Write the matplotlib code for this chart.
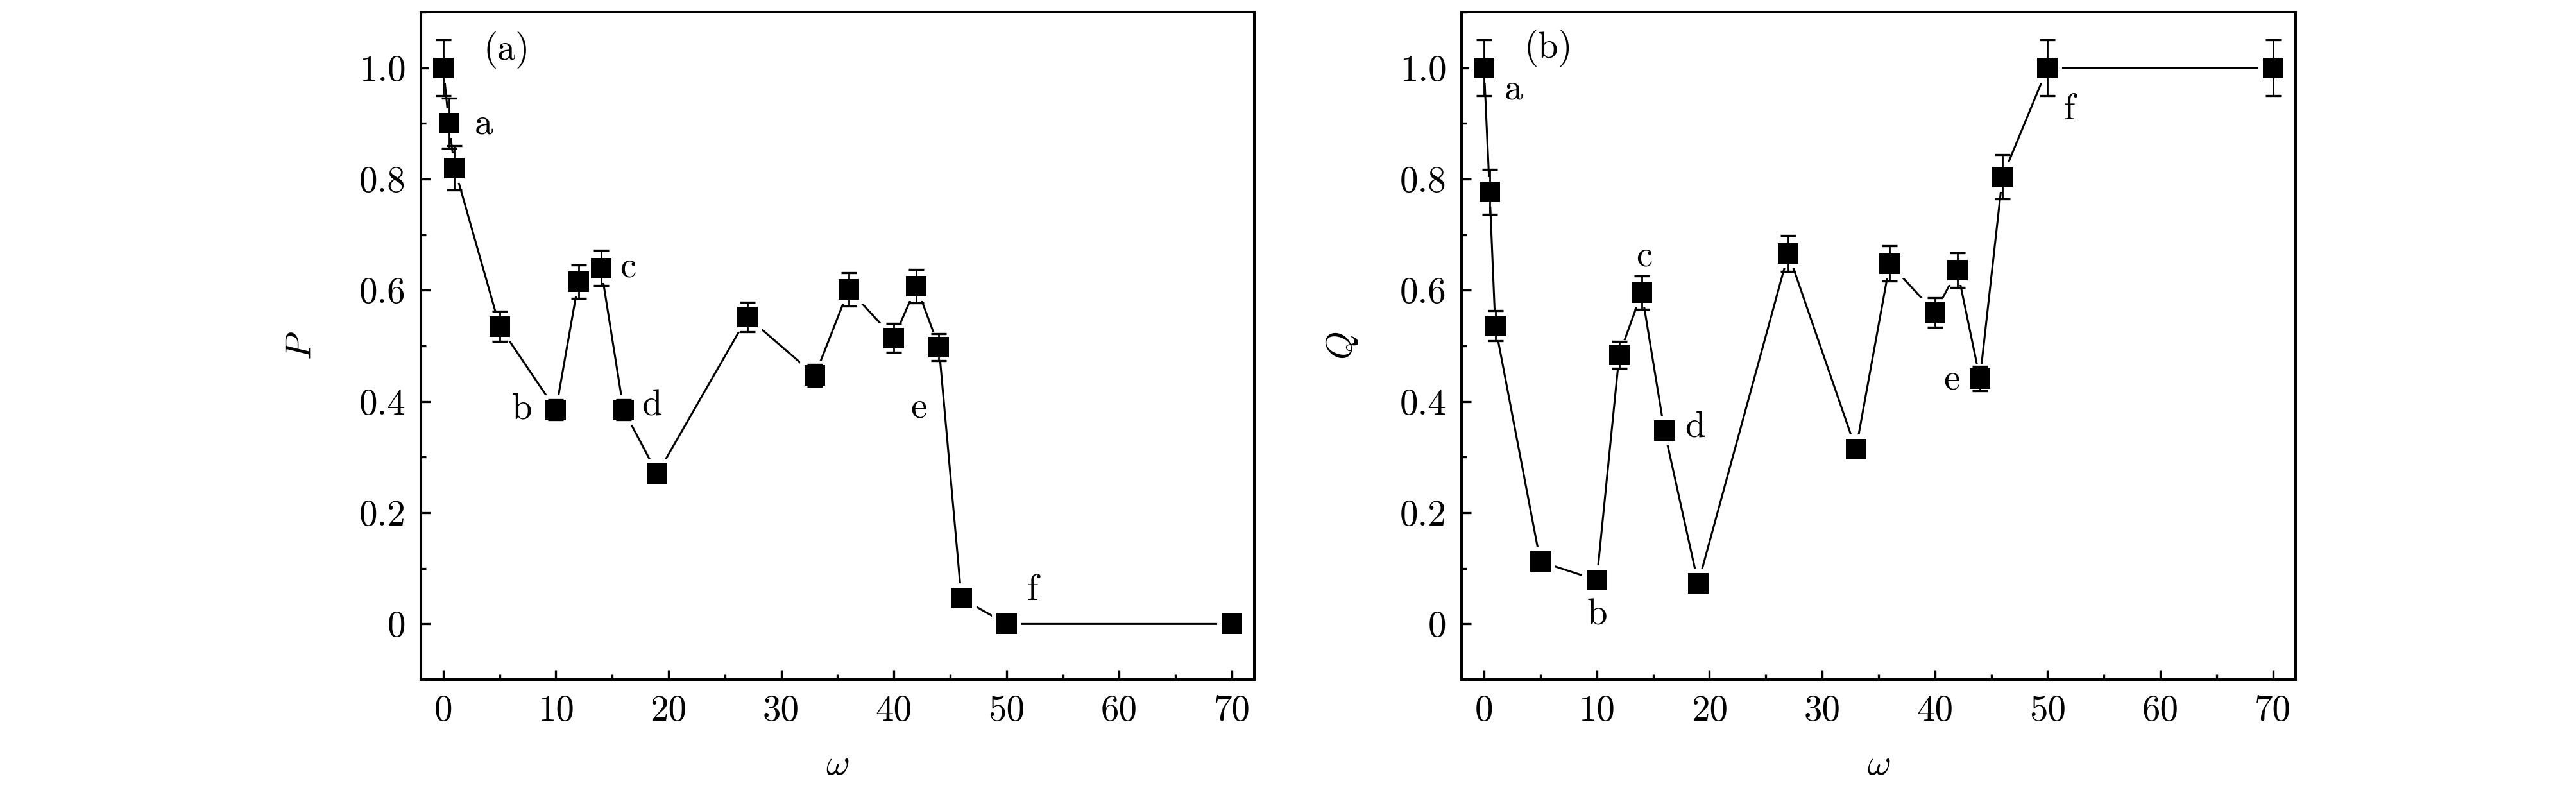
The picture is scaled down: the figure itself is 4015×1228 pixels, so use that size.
import matplotlib
matplotlib.use('Agg')
import matplotlib.pyplot as plt
from matplotlib.ticker import MultipleLocator

# data
omega = [0, 0.5, 1, 5, 10, 12, 14, 16, 19, 27, 33, 36, 40, 42, 44, 46, 50, 70]

P = [1.0, 0.90, 0.82, 0.535, 0.385, 0.615, 0.64, 0.385, 0.27, 0.552,
     0.447, 0.602, 0.514, 0.607, 0.498, 0.046, 0.0, 0.0]
P_err = [0.05, 0.045, 0.04, 0.027, 0.018, 0.03, 0.032, 0.018, 0.01, 0.027,
         0.02, 0.03, 0.026, 0.03, 0.024, 0.0, 0.0, 0.0]

Q = [1.0, 0.777, 0.536, 0.112, 0.079, 0.484, 0.596, 0.348, 0.073, 0.666,
     0.314, 0.648, 0.56, 0.636, 0.441, 0.804, 1.0, 1.0]
Q_err = [0.05, 0.04, 0.027, 0.01, 0.01, 0.024, 0.03, 0.01, 0.01, 0.032,
         0.01, 0.032, 0.027, 0.031, 0.022, 0.04, 0.05, 0.05]

xticks = [0, 10, 20, 30, 40, 50, 60, 70]
yticks = [0, 0.2, 0.4, 0.6, 0.8, 1.0]
yticklabels = ['0', '0.2', '0.4', '0.6', '0.8', '1.0']

# point labels (text, x, y)
notes_a = [('(a)', 5.6, 1.032), ('a', 3.6, 0.898), ('b', 7.0, 0.385),
           ('c', 16.4, 0.641), ('d', 18.5, 0.392), ('e', 42.2, 0.388),
           ('f', 52.3, 0.06)]
notes_b = [('(b)', 5.7, 1.035), ('a', 2.6, 0.961), ('b', 10.05, 0.015),
           ('c', 14.2, 0.661), ('d', 18.7, 0.352), ('e', 41.5, 0.439),
           ('f', 51.9, 0.924)]

plt.rcParams['font.family'] = 'cmr10'
plt.rcParams['mathtext.fontset'] = 'cm'
plt.rcParams['axes.unicode_minus'] = False

FS = 41

fig = plt.figure(figsize=(40.16, 12.28), dpi=100)
ax1 = fig.add_axes([0.1633, 0.1376, 0.3235, 0.8469])
ax2 = fig.add_axes([0.5672, 0.1376, 0.3237, 0.8469])


def draw(ax, y, yerr, ylab, notes):
    ax.plot(omega, y, color='k', lw=2.2, zorder=1)
    # white halo so the line stops short of the markers
    ax.plot(omega, y, ls='none', marker='s', ms=23.5, mfc='k', mec='w', mew=10, zorder=2)
    ax.errorbar(omega, y, yerr=yerr, fmt='none', ecolor='k', elinewidth=2.0,
                capsize=8.6, capthick=2.4, zorder=3)
    ax.plot(omega, y, ls='none', marker='s', ms=23.5, mfc='k', mew=0, zorder=4)

    ax.set_xlim(-2, 72)
    ax.set_ylim(-0.1, 1.1)
    ax.set_xticks(xticks)
    ax.set_yticks(yticks, labels=yticklabels)
    ax.xaxis.set_minor_locator(MultipleLocator(5))
    ax.yaxis.set_minor_locator(MultipleLocator(0.1))
    ax.tick_params(which='both', direction='in', top=False, right=False,
                   labelsize=FS, pad=17)
    ax.tick_params(which='major', length=10.5, width=2.4)
    ax.tick_params(which='minor', length=5.5, width=2.4)
    for s in ax.spines.values():
        s.set_linewidth(2.9)

    ax.set_xlabel(r'$\omega$', fontsize=FS, va='center')
    ax.xaxis.set_label_coords(0.5, -0.128)
    ax.set_ylabel(ylab, fontsize=FS, va='center', rotation=90)
    ax.yaxis.set_label_coords(-0.143, 0.5)

    for t, tx, ty in notes:
        ax.text(tx, ty, t, fontsize=FS, ha='center', va='center', zorder=5)


draw(ax1, P, P_err, r'$P$', notes_a)
draw(ax2, Q, Q_err, r'$Q$', notes_b)

fig.savefig('out.png', dpi=100)
